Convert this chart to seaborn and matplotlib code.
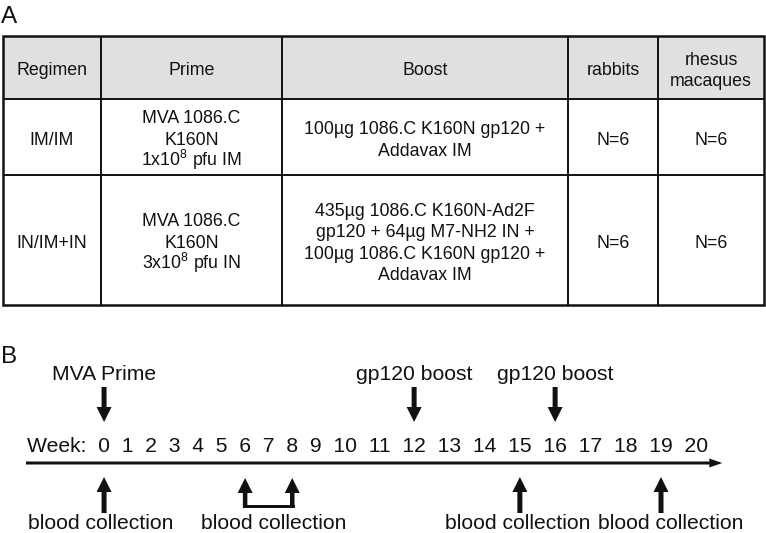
import matplotlib
matplotlib.use("Agg")
import matplotlib.pyplot as plt
from matplotlib.patches import Rectangle
import seaborn as sns

# ---------------- data ----------------
panel_labels = ["A", "B"]

header = ["Regimen", "Prime", "Boost", "rabbits", "rhesus\nmacaques"]
regimens = ["IM/IM", "IN/IM+IN"]
primes = ["MVA 1086.C\nK160N\n1x10$^8$ pfu IM",
          "MVA 1086.C\nK160N\n3x10$^8$ pfu IN"]
boosts = ["100µg 1086.C K160N gp120 +\nAddavax IM",
          "435µg 1086.C K160N-Ad2F\ngp120 + 64µg M7-NH2 IN +\n"
          "100µg 1086.C K160N gp120 +\nAddavax IM"]
rabbits_n = ["N=6", "N=6"]
macaques_n = ["N=6", "N=6"]

weeks = list(range(21))
week_prefix = "Week:"
prime_weeks = [0]
prime_label = "MVA Prime"
boost_weeks = [12, 16]
boost_label = "gp120 boost"
blood_groups = [[0], [6, 8], [15], [19]]
blood_label = "blood collection"

# ---------------- style / layout ----------------
sns.set_theme(style="white")
plt.rcParams["font.family"] = ["Liberation Sans", "DejaVu Sans"]
plt.rcParams["mathtext.default"] = "regular"

W, H = 766, 533
fig = plt.figure(figsize=(W / 100, H / 100), dpi=100)
ax = fig.add_axes([0, 0, 1, 1])
ax.set_xlim(0, W)
ax.set_ylim(H, 0)
ax.axis("off")

ink = "#111111"
table_fs = 12.8
line_pitch = 21.5          # px between table text lines
cap_half = 6.4             # half cap-height in px (baseline offset)
tl_fs = 15.2
blood_label_dx = [-3, 5, -2, 10]

# ---------------- panel labels ----------------
ax.text(1, 23, panel_labels[0], fontsize=17.5, ha="left", va="baseline", color=ink)
ax.text(1, 363, panel_labels[1], fontsize=17.5, ha="left", va="baseline", color=ink)

# ---------------- table (panel A) ----------------
col_edges = [3, 101, 282, 568, 658, 764]
row_edges = [36, 99, 175, 305]

ax.add_patch(Rectangle((col_edges[0], row_edges[0]),
                       col_edges[-1] - col_edges[0], row_edges[1] - row_edges[0],
                       fc="#e0e0e0", ec="none", zorder=0))
ax.hlines(row_edges[1:-1], col_edges[0], col_edges[-1], color=ink, lw=1.4, zorder=2)
ax.vlines(col_edges[1:-1], row_edges[0], row_edges[-1], color=ink, lw=1.4, zorder=2)
ax.add_patch(Rectangle((col_edges[0], row_edges[0]),
                       col_edges[-1] - col_edges[0], row_edges[-1] - row_edges[0],
                       fc="none", ec=ink, lw=1.8, zorder=3))

rows = [header] + [list(r) for r in zip(regimens, primes, boosts, rabbits_n, macaques_n)]
for ri, row in enumerate(rows):
    cy = (row_edges[ri] + row_edges[ri + 1]) / 2 + 1.5
    for ci, s in enumerate(row):
        cx = (col_edges[ci] + col_edges[ci + 1]) / 2
        lines = s.split("\n")
        n = len(lines)
        for li, line in enumerate(lines):
            y = cy + (li - (n - 1) / 2) * line_pitch + cap_half
            ax.text(cx, y, line, ha="center", va="baseline",
                    fontsize=table_fs, color=ink)

# ---------------- timeline (panel B) ----------------
week_left = 27
week_base = 452
sep = "  "
week_str = week_prefix + sep + sep.join(str(w) for w in weeks)
wtxt = ax.text(week_left, week_base, week_str, ha="left", va="baseline",
               fontsize=tl_fs, color=ink)

renderer = fig.canvas.get_renderer()
prop = wtxt.get_fontproperties()


def text_w(s):
    return renderer.get_text_width_height_descent(s, prop, ismath=False)[0]


week_x = {}
for i, wk in enumerate(weeks):
    prefix = week_prefix + sep + sep.join(str(v) for v in weeks[:i + 1])
    week_x[wk] = week_left + text_w(prefix) - text_w(str(wk)) / 2

# main axis arrow
axis_y = 463
axis_end = week_x[weeks[-1]] + 26
ax.arrow(week_left - 1, axis_y, axis_end - (week_left - 1), 0, width=3,
         head_width=9, head_length=13, length_includes_head=True,
         fc=ink, ec="none")


def down_arrow(x, label):
    ax.arrow(x, 387, 0, 35, width=5, head_width=15, head_length=15,
             length_includes_head=True, fc=ink, ec="none")
    ax.text(x, 380, label, ha="center", va="baseline", fontsize=tl_fs, color=ink)


for wk in prime_weeks:
    down_arrow(week_x[wk], prime_label)
for wk in boost_weeks:
    down_arrow(week_x[wk], boost_label)

# upward blood-collection arrows
for gi, grp in enumerate(blood_groups):
    xs = [week_x[w] for w in grp]
    if len(grp) == 1:
        ax.arrow(xs[0], 513, 0, -36, width=5, head_width=15, head_length=15,
                 length_includes_head=True, fc=ink, ec="none")
    else:
        for x in xs:
            ax.arrow(x, 508, 0, -30, width=4.5, head_width=15, head_length=15,
                     length_includes_head=True, fc=ink, ec="none")
        ax.add_patch(Rectangle((min(xs) - 2.25, 504.5),
                               max(xs) - min(xs) + 4.5, 3.5, fc=ink, ec="none"))
    cx = (min(xs) + max(xs)) / 2 + blood_label_dx[gi]
    ax.text(cx, 529, blood_label, ha="center", va="baseline",
            fontsize=tl_fs, color=ink)

fig.savefig("out.png", dpi=100, facecolor="white")
